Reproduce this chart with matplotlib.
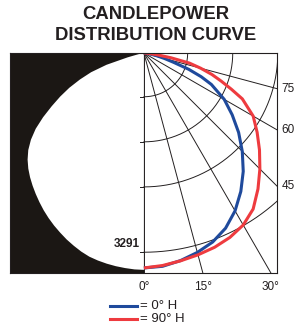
import numpy as np
import matplotlib

matplotlib.use("Agg")
import matplotlib.pyplot as plt
from matplotlib.lines import Line2D

plt.rcParams["font.family"] = ["Liberation Sans", "DejaVu Sans"]

# candela values, angle measured from nadir (straight down)
angles = [0, 5, 10, 15, 20, 25, 30, 35, 40, 45, 50, 55, 60, 65,
          67.5, 70, 72.5, 75, 77.5, 80, 82.5, 85, 87.5, 90]
cd_0h = [3291, 3278, 3227, 3161, 3079, 2959, 2791, 2587, 2366, 2130, 1893, 1650, 1420, 1140,
         950, 730, 480, 330, 210, 120, 70, 35, 10, 0]
cd_90h = [3291, 3266, 3231, 3199, 3165, 3115, 3041, 2916, 2717, 2511, 2310, 2116, 1932, 1663,
          1450, 1260, 1090, 900, 715, 420, 200, 80, 25, 0]

# white beam outline on the left panel (mirrored)
outline_angles = [0, 2.5, 5, 7.5, 10, 12.5, 15, 17.5, 20, 22.5, 25, 27.5, 30, 32.5, 35, 37.5,
                  40, 42.5, 45, 47.5, 50, 52.5, 55, 57.5, 60, 62.5, 65, 67.5, 70, 72.5,
                  75, 77.5, 80, 82.5, 85, 87.5, 90]
beam_outline = [3320, 3316, 3305, 3292, 3275, 3254, 3228, 3188, 3140, 3090, 3034, 2978, 2918,
                2855, 2788, 2720, 2651, 2580, 2503, 2415, 2311, 2180, 2022, 1830, 1630, 1445,
                1260, 1060, 860, 600, 260, 90, 35, 15, 5, 0, 0]

ring_values = [670, 1360, 2050, 3050]
ray_angles = [0, 15, 30, 45, 60, 75, 90]
bottom_angles = [0, 15, 30]
bottom_labels = ["0°", "15°", "30°"]
side_angles = [75, 60, 45]
side_labels = ["75", "60", "45"]
peak_label = "3291"
legend_labels = ["= 0° H", "= 90° H"]

box_left, box_right, box_depth = -2050, 2030, 3368
cd_per_px = 3291 / 215

ink = "#231f20"
blue = "#1f4a9c"
red = "#ee3b3f"


def to_xy(deg, r, mirror=False):
    t = np.radians(np.asarray(deg, dtype=float))
    r = np.asarray(r, dtype=float)
    x = r * np.sin(t)
    return (-x if mirror else x), -r * np.cos(t)


fig = plt.figure(figsize=(2.94, 3.28), dpi=100)
ax = fig.add_axes([10 / 294, 55 / 328, 266.5 / 294, 220 / 328])

# left panel: dark field with the beam outline in white
ax.fill_between([box_left, 0], -box_depth, 0, color="#1b1714", lw=0, zorder=1)
bx, by = to_xy(outline_angles, beam_outline, mirror=True)
ax.fill(bx, by, color="white", lw=0, zorder=2)

# polar grid
t = np.linspace(0, 90, 300)
for r in ring_values:
    gx, gy = to_xy(t, np.full_like(t, r))
    ax.plot(gx, gy, color=ink, lw=0.7, zorder=3)
    ax.plot([-4 * cd_per_px, 0], [-r, -r], color=ink, lw=0.7, zorder=3)
for a in ray_angles:
    rx, ry = to_xy([a, a], [0, 10000])
    ax.plot(rx, ry, color=ink, lw=0.7, zorder=3)

# curves
cx, cy = to_xy(angles, cd_0h)
ax.plot(cx, cy, color=blue, lw=2.2, zorder=4, solid_capstyle="butt")
cx, cy = to_xy(angles, cd_90h)
ax.plot(cx, cy, color=red, lw=2.2, zorder=5, solid_capstyle="butt")

ax.set_xlim(box_left, box_right)
ax.set_ylim(-box_depth, 0)
for s in ax.spines.values():
    s.set_color(ink)
    s.set_linewidth(0.8)
    s.set_zorder(6)

ax.set_xticks([box_depth * np.tan(np.radians(a)) for a in bottom_angles])
ax.set_xticklabels(bottom_labels, fontsize=8.5)
ax.tick_params(axis="x", length=0, pad=6, colors=ink)
ax.set_yticks([])

for a, lab in zip(side_angles, side_labels):
    y = -box_right / np.tan(np.radians(a))
    ax.text(box_right + 5 * cd_per_px, y, lab, ha="left", va="center",
            fontsize=8.5, color=ink, clip_on=False)

ax.text(-4 * cd_per_px, -2930, peak_label, ha="right", va="center",
        fontsize=8.5, fontweight="bold", color=ink, zorder=6)

# legend
for i, (col, lab) in enumerate(zip([blue, red], legend_labels)):
    yf = 1 - (306 + 13 * i) / 328
    fig.add_artist(Line2D([110 / 294, 137 / 294], [yf, yf], color=col, lw=2.2,
                          transform=fig.transFigure))
    fig.text(140 / 294, yf, lab, ha="left", va="center", fontsize=9.5, color=ink)

fig.text(0.53, 1 - 14.5 / 328, "CANDLEPOWER", ha="center", va="center",
         fontsize=13.3, fontweight="bold", color=ink)
fig.text(0.53, 1 - 36 / 328, "DISTRIBUTION CURVE", ha="center", va="center",
         fontsize=13.3, fontweight="bold", color=ink)

fig.savefig("out.png", dpi=100, facecolor="white")
